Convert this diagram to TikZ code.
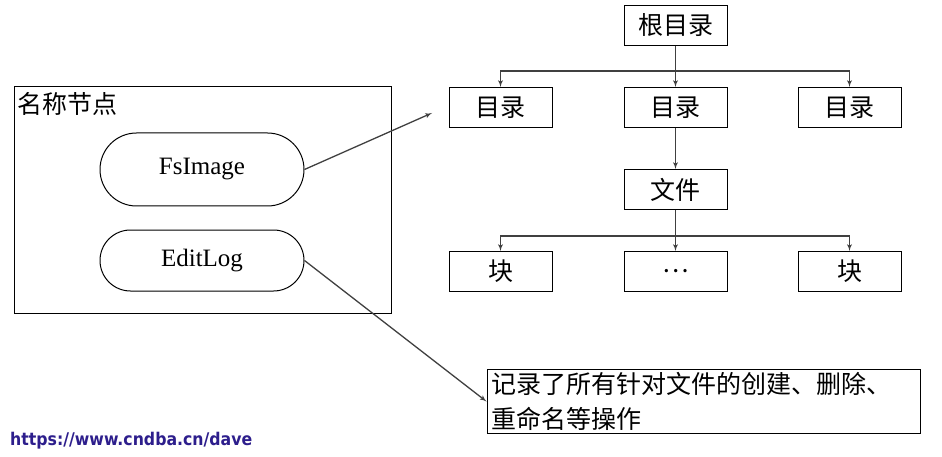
\documentclass[tikz,border=0pt]{standalone}
\usepackage{fontspec}
\setmainfont{Liberation Serif}
\newfontfamily\cjk{Noto Sans CJK SC}
\newfontfamily\urlfont{DejaVu Sans Condensed}
\usepackage{tikz}
\usetikzlibrary{shapes,arrows,positioning}
\newcommand{\bigtext}{\fontsize{25}{35}\selectfont}
\tikzstyle{box} = [rectangle, draw, line width=1pt, minimum width=103pt,
    minimum height=40pt, inner sep=0pt, font=\bigtext\cjk]
\tikzstyle{pill} = [rounded rectangle, draw, line width=1pt, minimum width=204pt,
    inner sep=0pt, font=\bigtext]
\tikzstyle{note} = [rectangle, draw, line width=1pt, minimum width=433pt,
    minimum height=61pt, text width=425pt, align=left, inner sep=3pt, font=\bigtext\cjk]
\tikzstyle{line} = [draw, -latex', line width=1.3pt, black!75]

\begin{document}
\begin{tikzpicture}[x=1pt, y=-1pt, node distance = 41pt, auto]
    \useasboundingbox (0,0) rectangle (942,457);
    % Place nodes
    \node [rectangle, draw, line width=1pt, minimum width=377pt, minimum height=226pt] (namenode) at (202.5,200) {};
    \node [anchor=north west, inner sep=0pt, font=\bigtext\cjk] (namelabel) at ([xshift=4pt, yshift=-6pt]namenode.north west) {名称节点};
    \node [pill, minimum height=73pt] (fsimage) at (202,169.5) {FsImage};
    \node [pill, minimum height=61pt] (editlog) at (202,260.5) {EditLog};
    \node [box] (root) at (675.5,25.5) {根目录};
    \node [box, below = of root] (dirm) {目录};
    \node [box, left = 71pt of dirm] (dirl) {目录};
    \node [box, right = 70pt of dirm] (dirr) {目录};
    \node [box, below = of dirm] (file) {文件};
    \node [box, below = of file] (blockm) {…};
    \node [box, left = 71pt of blockm] (blockl) {块};
    \node [box, right = 70pt of blockm] (blockr) {块};
    \node [note] (record) at (703.5,401.5) {记录了所有针对文件的创建、删除、\\重命名等操作};
    \node [anchor=west, inner sep=0pt, font=\fontsize{17.5}{20}\selectfont\urlfont\bfseries,
        text={rgb,255:red,45;green,30;blue,140}] (url) at (10,441) {https://www.cndba.cn/dave};
    \coordinate [below = 25pt of root] (fork1);
    \coordinate [below = 26pt of file] (fork2);
    \coordinate (tree) at (432,113);
    \path [line] (root) -- (dirm);
    \path [line] (fork1) -| (dirl);
    \path [line] (fork1) -| (dirr);
    \path [line] (dirm) -- (file);
    \path [line] (file) -- (blockm);
    \path [line] (fork2) -| (blockl);
    \path [line] (fork2) -| (blockr);
    \path [line] (fsimage.east) -- (tree);
    \path [line] (editlog.east) -- (record.west);
\end{tikzpicture}
\end{document}
